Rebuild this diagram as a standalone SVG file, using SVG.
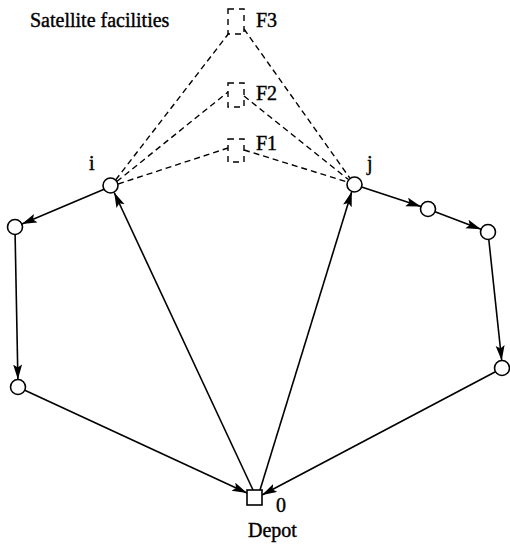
<svg xmlns="http://www.w3.org/2000/svg" width="510" height="544" viewBox="0 0 510 544">
<style>
text{font-family:'Liberation Serif','Times New Roman','DejaVu Serif',serif;font-size:20px;fill:#000;stroke:#000;stroke-width:0.4}
.node{fill:#fff;stroke:#000;stroke-width:1.6}
.fac{fill:none;stroke:#000;stroke-width:1.4;stroke-dasharray:6,5}
.edge{stroke:#000;stroke-width:1.6;fill:none;marker-end:url(#ah)}
.dash{stroke:#000;stroke-width:1.4;fill:none;stroke-dasharray:6,4}
</style>
<defs>
<marker id="ah" markerUnits="userSpaceOnUse" markerWidth="16" markerHeight="10" refX="15" refY="4.5" orient="auto">
<path d="M0,0 L15,4.5 L0,9 L3,4.5 Z" fill="#000"/>
</marker>
</defs>
<rect width="510" height="544" fill="#fff"/>
<text x="30" y="27" font-size="21">Satellite facilities</text>
<g id="connectors">
<line class="dash" x1="115.6" y1="180" x2="229" y2="33"/>
<line class="dash" x1="116.8" y1="181.5" x2="228" y2="92"/>
<line class="dash" x1="118.1" y1="184" x2="228" y2="148"/>
<line class="dash" x1="244" y1="29" x2="349.7" y2="177.9"/>
<line class="dash" x1="244" y1="96" x2="348.1" y2="179.3"/>
<line class="dash" x1="244" y1="150" x2="346.8" y2="181.8"/>
<line class="edge" x1="104.1" y1="189.2" x2="21.9" y2="224.1"/>
<line class="edge" x1="15.1" y1="234.5" x2="17.9" y2="379.5"/>
<line class="edge" x1="24.8" y1="390.2" x2="247" y2="493"/>
<line class="edge" x1="253" y1="490" x2="114.2" y2="192.5"/>
<line class="edge" x1="260" y1="490" x2="351.8" y2="191.6"/>
<line class="edge" x1="361.6" y1="187" x2="420.9" y2="206.6"/>
<line class="edge" x1="435" y1="211.7" x2="481" y2="229.3"/>
<line class="edge" x1="488.8" y1="239.5" x2="501.7" y2="360.5"/>
<line class="edge" x1="495.9" y1="371.5" x2="262" y2="495"/>
</g>
<g id="F3"><rect class="fac" x="228" y="9" width="16" height="25"/><text x="256" y="27">F3</text></g>
<g id="F2"><rect class="fac" x="228" y="83" width="16" height="24"/><text x="256" y="100">F2</text></g>
<g id="F1"><rect class="fac" x="228" y="139" width="16" height="23"/><text x="256" y="150">F1</text></g>
<g id="i"><circle class="node" cx="110.5" cy="185.5" r="7.5"/><text x="89" y="170">i</text></g>
<g id="j"><circle class="node" cx="354.5" cy="184.5" r="7.5"/><text x="367" y="170">j</text></g>
<g id="n1"><circle class="node" cx="15" cy="227" r="7.5"/></g>
<g id="n2"><circle class="node" cx="18" cy="387" r="7.5"/></g>
<g id="n3"><circle class="node" cx="428" cy="209" r="7.5"/></g>
<g id="n4"><circle class="node" cx="488" cy="232" r="7.5"/></g>
<g id="n5"><circle class="node" cx="502" cy="368" r="7.5"/></g>
<g id="depot"><rect class="node" x="247" y="490" width="15" height="15"/><text x="276" y="512">0</text><text x="248" y="537">Depot</text></g>
</svg>
